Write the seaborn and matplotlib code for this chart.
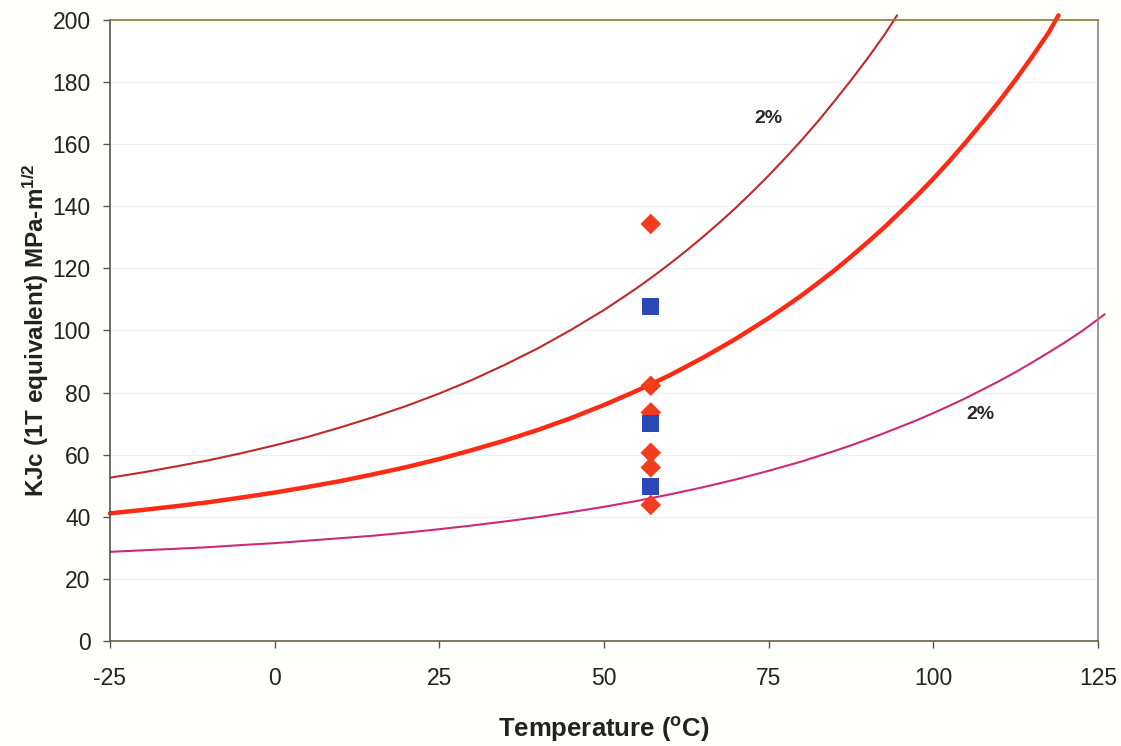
import numpy as np
import pandas as pd
import matplotlib
matplotlib.use("Agg")
import matplotlib.pyplot as plt
import seaborn as sns

# ---- data ----
upper_T = [-25, -20, -15, -10, -5, 0, 5, 10, 15, 20, 25, 30, 35, 40, 45, 50,
           52.5, 55, 57.5, 60, 62.5, 65, 67.5, 70, 72.5, 75, 77.5, 80, 82.5, 85,
           87.5, 90, 92.5, 94.5]
upper_K = [52.6, 54.3, 56.2, 58.2, 60.5, 63.0, 65.7, 68.8, 72.1, 75.7, 79.7, 84.1,
           89.0, 94.3, 100.2, 106.6, 110.1, 113.7, 117.5, 121.5, 125.7, 130.1,
           134.7, 139.5, 144.6, 149.9, 155.5, 161.3, 167.4, 173.9, 180.6, 187.6,
           195.0, 201.5]

median_T = [-25, -20, -15, -10, -5, 0, 5, 10, 15, 20, 25, 30, 35, 40, 45, 50,
            55, 60, 65, 70, 75, 77.5, 80, 82.5, 85, 87.5, 90, 92.5, 95, 97.5,
            100, 102.5, 105, 107.5, 110, 112.5, 115, 117.5, 119]
median_K = [41.1, 42.2, 43.4, 44.7, 46.2, 47.8, 49.6, 51.5, 53.7, 56.0, 58.6, 61.5,
            64.6, 68.0, 71.8, 76.0, 80.6, 85.6, 91.2, 97.3, 104.0, 107.6, 111.3,
            115.3, 119.4, 123.8, 128.4, 133.1, 138.2, 143.4, 148.9, 154.7, 160.8,
            167.2, 173.8, 180.8, 188.2, 195.9, 201.5]

lower_T = [-25, -20, -15, -10, -5, 0, 5, 10, 15, 20, 25, 30, 35, 40, 45, 50,
           55, 60, 65, 70, 75, 77.5, 80, 82.5, 85, 87.5, 90, 92.5, 95, 97.5,
           100, 102.5, 105, 107.5, 110, 112.5, 115, 117.5, 120, 122.5, 125, 126]
lower_K = [28.7, 29.2, 29.7, 30.2, 30.9, 31.5, 32.3, 33.1, 33.9, 34.9, 36.0, 37.2,
           38.5, 39.9, 41.5, 43.2, 45.1, 47.2, 49.5, 52.0, 54.8, 56.3, 57.8, 59.5,
           61.2, 63.0, 64.9, 66.9, 69.0, 71.1, 73.4, 75.8, 78.3, 81.0, 83.7, 86.6,
           89.7, 92.9, 96.2, 99.7, 103.6, 105.2]

diamond_T = [57.1, 57.1, 57.1, 57.1, 57.1, 57.1]
diamond_K = [134.3, 82.2, 73.6, 60.6, 55.9, 43.8]

square_T = [57.1, 57.1, 57.1]
square_K = [107.7, 69.9, 49.8]

x_ticks = [-25, 0, 25, 50, 75, 100, 125]
y_ticks = [0, 20, 40, 60, 80, 100, 120, 140, 160, 180, 200]

label_2pct = ["2%", "2%"]
label_T = [74.9, 107.1]
label_K = [168.4, 72.8]

# ---- plotting ----
sns.set_theme(style="white")
plt.rcParams['font.family'] = ['Liberation Sans', 'DejaVu Sans']
plt.rcParams['axes.unicode_minus'] = False

fig = plt.figure(figsize=(11.21, 7.46), dpi=100, facecolor='#fffffb')
ax = fig.add_axes([0.0981, 0.1408, 0.9795 - 0.0981, 0.9732 - 0.1408])
ax.set_facecolor('#ffffff')

for y in y_ticks[1:-1]:
    ax.axhline(y, color='#eceef4', lw=0.8, zorder=0)

df_up = pd.DataFrame({'T': upper_T, 'K': upper_K})
df_med = pd.DataFrame({'T': median_T, 'K': median_K})
df_lo = pd.DataFrame({'T': lower_T, 'K': lower_K})

sns.lineplot(data=df_up, x='T', y='K', ax=ax, color='#c0282a', lw=1.5,
             sort=False, estimator=None)
sns.lineplot(data=df_med, x='T', y='K', ax=ax, color='#ff2a14', lw=3.2,
             sort=False, estimator=None)
sns.lineplot(data=df_lo, x='T', y='K', ax=ax, color='#cc2a78', lw=1.5,
             sort=False, estimator=None)
for ln in ax.get_lines():
    ln.set_clip_on(False)
    ln.set_solid_joinstyle('round')

df_d = pd.DataFrame({'T': diamond_T, 'K': diamond_K})
df_s = pd.DataFrame({'T': square_T, 'K': square_K})
sns.scatterplot(data=df_d, x='T', y='K', ax=ax, marker='D', s=110,
                color='#f23c1e', edgecolor='none', zorder=5)
sns.scatterplot(data=df_s, x='T', y='K', ax=ax, marker='s', s=150,
                color='#2a48b8', edgecolor='none', zorder=6)

for txt, tx, ty in zip(label_2pct, label_T, label_K):
    ax.text(tx, ty, txt, fontsize=14, fontweight='bold', color='#2a2a2a',
            ha='center', va='center')

ax.set_xlim(-25, 125)
ax.set_ylim(0, 200)
ax.set_xticks(x_ticks)
ax.set_yticks(y_ticks)
ax.tick_params(axis='both', which='both', direction='out', length=5, width=1,
               color='#555555', labelsize=16.5, labelcolor='#222222',
               bottom=True, left=True)
ax.tick_params(axis='x', pad=14)
ax.tick_params(axis='y', pad=9)

ax.set_xlabel('Temperature ($\\mathregular{^{o}}$C)', fontsize=18.5, fontweight='bold',
              color='#222222', labelpad=18)
ax.set_ylabel('KJc (1T equivalent) MPa-m$\\mathregular{^{1/2}}$', fontsize=17.5,
              fontweight='bold', color='#222222', labelpad=1)

ax.spines['left'].set_color('#555555')
ax.spines['bottom'].set_color('#6a6040')
ax.spines['top'].set_color('#8a7a30')
ax.spines['right'].set_color('#888888')
for s in ax.spines.values():
    s.set_linewidth(1.2)

fig.savefig('out.png', dpi=100, facecolor=fig.get_facecolor())
